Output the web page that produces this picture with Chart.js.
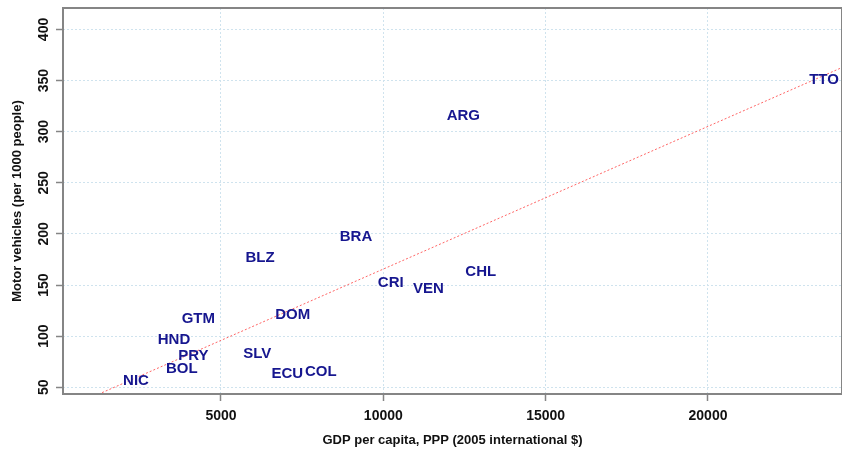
<!DOCTYPE html>
<html>
<head>
<meta charset="utf-8">
<script src="https://cdn.jsdelivr.net/npm/chart.js@4"></script>
<style>
  html, body { margin: 0; padding: 0; background: #ffffff; }
  canvas { display: block; }
</style>
</head>
<body>
<canvas id="chart" width="842" height="449"></canvas>
<script>
// Country codes, GDP per capita (PPP, 2005 international $) and motor vehicles per 1000 people
const countries = ['NIC', 'BOL', 'PRY', 'HND', 'GTM', 'SLV', 'ECU', 'COL', 'DOM', 'BLZ', 'BRA', 'CRI', 'VEN', 'CHL', 'ARG', 'TTO'];
const gdpPerCapita = [2384, 3791, 4148, 3554, 4302, 6120, 7043, 8072, 7210, 6203, 9159, 10228, 11386, 13000, 12464, 23573];
const vehiclesPer1000 = [56, 68, 81, 96, 117, 83, 63, 65, 121, 177, 197, 152, 146, 163, 315, 351];

// End points of the fitted trend line
const fitX = [1000, 24200];
const fitY = [40, 363.8];

// Axis ticks and titles
const xTicks = [5000, 10000, 15000, 20000];
const yTicks = [50, 100, 150, 200, 250, 300, 350, 400];
const xTitle = 'GDP per capita, PPP (2005 international $)';
const yTitle = 'Motor vehicles (per 1000 people)';

const FONT = '"Liberation Sans", Arial, sans-serif';
const LABEL_COLOR = '#16168f';
const FRAME_COLOR = '#858585';
const GRID_COLOR = '#cfe3ee';

const points = countries.map((c, i) => ({ x: gdpPerCapita[i], y: vehiclesPer1000[i] }));
const fitLine = fitX.map((x, i) => ({ x: x, y: fitY[i] }));

// Country codes as text markers, frame, rotated y tick labels and axis titles
const decorations = {
  id: 'decorations',
  afterDatasetsDraw(chart) {
    const ctx = chart.ctx;
    const meta = chart.getDatasetMeta(0);
    ctx.save();
    ctx.font = 'bold 15px ' + FONT;
    ctx.fillStyle = LABEL_COLOR;
    ctx.textAlign = 'center';
    ctx.textBaseline = 'middle';
    meta.data.forEach((el, i) => {
      ctx.fillText(countries[i], el.x, el.y);
    });
    ctx.restore();
  },
  afterDraw(chart) {
    const ctx = chart.ctx;
    const a = chart.chartArea;
    const ys = chart.scales.y;
    ctx.save();
    // plot frame
    ctx.strokeStyle = FRAME_COLOR;
    ctx.lineWidth = 2;
    ctx.strokeRect(a.left, a.top, a.right - a.left, a.bottom - a.top);

    // y tick labels, rotated
    ctx.fillStyle = '#111111';
    ctx.font = 'bold 14px ' + FONT;
    ctx.textAlign = 'center';
    ctx.textBaseline = 'middle';
    yTicks.forEach(v => {
      const py = ys.getPixelForValue(v);
      ctx.save();
      ctx.translate(a.left - 19, py);
      ctx.rotate(-Math.PI / 2);
      ctx.fillText(String(v), 0, 0);
      ctx.restore();
    });

    // axis titles
    ctx.font = 'bold 13px ' + FONT;
    ctx.fillText(xTitle, (a.left + a.right) / 2, 440);
    ctx.save();
    ctx.translate(17, (a.top + a.bottom) / 2);
    ctx.rotate(-Math.PI / 2);
    ctx.fillText(yTitle, 0, 0);
    ctx.restore();
    ctx.restore();
  }
};

new Chart(document.getElementById('chart'), {
  type: 'scatter',
  data: {
    datasets: [
      {
        label: 'Countries',
        data: points,
        pointRadius: 0,
        pointHoverRadius: 0,
        showLine: false
      },
      {
        label: 'Trend',
        type: 'line',
        data: fitLine,
        showLine: true,
        borderColor: '#ff6464',
        borderWidth: 1,
        borderDash: [2, 2],
        pointRadius: 0,
        fill: false
      }
    ]
  },
  options: {
    responsive: false,
    animation: false,
    events: [],
    layout: { padding: { top: 8, right: 0, left: 0, bottom: 0 } },
    plugins: {
      legend: { display: false },
      tooltip: { enabled: false }
    },
    scales: {
      x: {
        type: 'linear',
        min: 135,
        max: 24127,
        afterBuildTicks(scale) {
          scale.ticks = xTicks.map(v => ({ value: v }));
        },
        afterFit(scale) { scale.height = 55; },
        grid: {
          color: GRID_COLOR,
          lineWidth: 1,
          drawTicks: true,
          tickLength: 7,
          tickColor: FRAME_COLOR,
          tickWidth: 1.5
        },
        border: { display: false, dash: [2, 2] },
        ticks: {
          color: '#111111',
          font: { family: FONT, size: 14, weight: 'bold' },
          padding: 7,
          maxRotation: 0,
          autoSkip: false,
          callback: v => String(v)
        }
      },
      y: {
        type: 'linear',
        min: 43.4,
        max: 421,
        afterBuildTicks(scale) {
          scale.ticks = yTicks.map(v => ({ value: v }));
        },
        afterFit(scale) { scale.width = 63; },
        grid: {
          color: GRID_COLOR,
          lineWidth: 1,
          drawTicks: true,
          tickLength: 7,
          tickColor: FRAME_COLOR,
          tickWidth: 1.5
        },
        border: { display: false, dash: [2, 2] },
        ticks: { display: false }
      }
    }
  },
  plugins: [decorations]
});
</script>
</body>
</html>
